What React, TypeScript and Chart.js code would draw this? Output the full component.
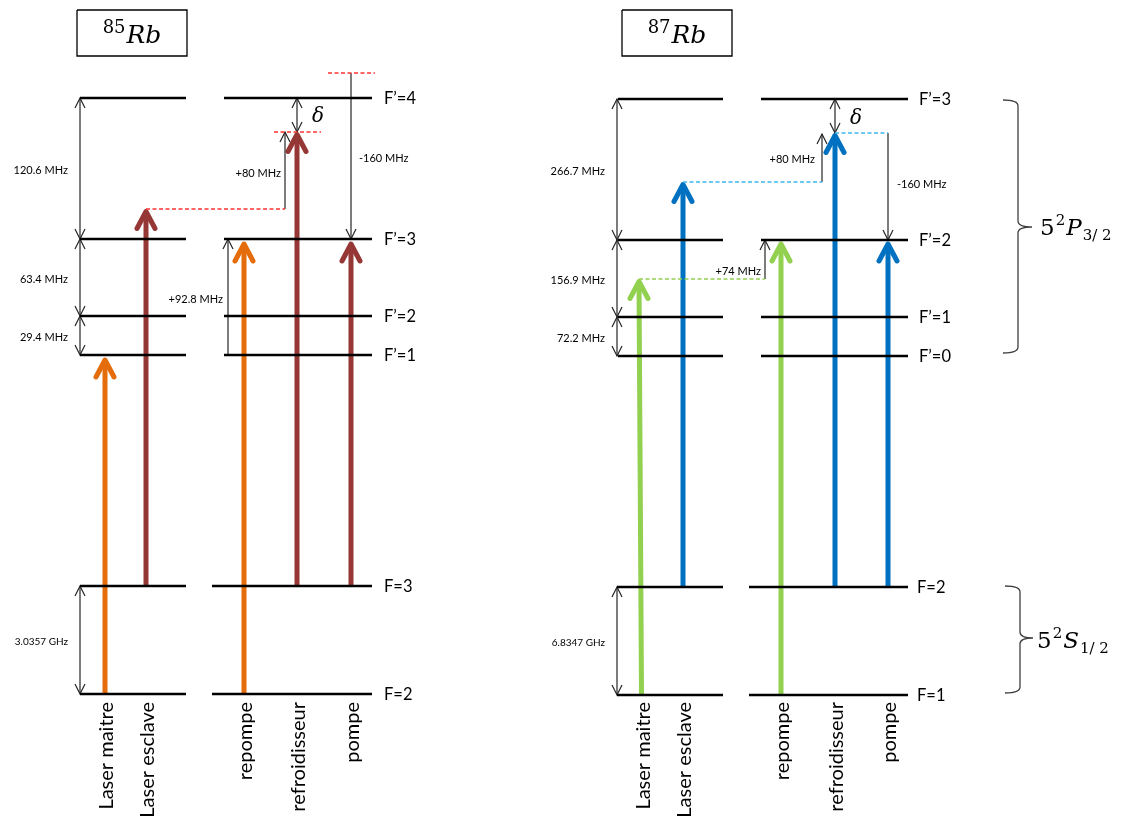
import { useEffect, useRef } from "react";
import { Chart, registerables } from "chart.js";
Chart.register(...registerables);

const W = 1130;
const H = 817;

// ---------- data ----------
// hyperfine levels, top -> bottom, with their vertical position on the diagram axis
const levelNames85 = ["F’=4", "F’=3", "F’=2", "F’=1", "F=3", "F=2"];
const levelY85 = [98, 239, 316, 355, 586, 694];
const levelNames87 = ["F’=3", "F’=2", "F’=1", "F’=0", "F=2", "F=1"];
const levelY87 = [99, 240, 317, 356, 587, 695];

// level spacings (between level i and i+1)
const gapLabels85 = ["120.6 MHz", "63.4 MHz", "29.4 MHz", "", "3.0357 GHz"];
const gapLabels87 = ["266.7 MHz", "156.9 MHz", "72.2 MHz", "", "6.8347 GHz"];

// lasers
const laserNames = ["Laser maitre", "Laser esclave", "repompe", "refroidisseur", "pompe"];
const laserStartLevel = [5, 4, 5, 4, 4];
const laserX85 = [105, 146, 244, 297, 351];
const laserTopX85 = [105, 146, 244, 297, 351];
const laserTip85 = [360, 211.5, 244, 134.5, 244];
const laserColors85 = ["#E46C0A", "#953735", "#E46C0A", "#953735", "#953735"];
const laserX87 = [641.5, 683, 781, 835, 888];
const laserTopX87 = [639, 683, 781, 835, 888];
const laserTip87 = [281.5, 184.5, 244, 135.5, 244];
const laserColors87 = ["#92D050", "#0070C0", "#92D050", "#0070C0", "#0070C0"];

// frequency offsets (AOM shifts)
const offsetLabels85 = ["+92.8 MHz", "+80 MHz", "-160 MHz"];
const offsetX85 = [228, 285, 351];
const offsetFrom85 = [355, 209, 73];
const offsetTo85 = [239, 132, 239];
const offsetLabels87 = ["+74 MHz", "+80 MHz", "-160 MHz"];
const offsetX87 = [765, 822, 888];
const offsetFrom87 = [279, 182, 133];
const offsetTo87 = [240, 134, 240];

// dashed reference lines: y, x-start, x-end
const refY85 = [209, 132, 73];
const refX1_85 = [146, 274, 328];
const refX2_85 = [285, 321, 375];
const refColors85 = ["#FF3333", "#FF3333", "#FF3333"];
const refY87 = [279, 182, 133];
const refX1_87 = [639, 683, 835];
const refX2_87 = [765, 822, 888];
const refColors87 = ["#92D050", "#3DB7F0", "#3DB7F0"];

// detuning delta
const deltaX = [297, 835];
const deltaTo = [132, 133];

type P = { x: number; y: number };

function seg(points: P[], color: string, width: number, extra: any = {}) {
  return {
    data: points,
    borderColor: color,
    backgroundColor: color,
    borderWidth: width,
    showLine: true,
    pointRadius: 0,
    pointHoverRadius: 0,
    fill: false,
    tension: 0,
    clip: false,
    ...extra,
  };
}

function thinHead(x: number, y: number, dir: number): P[] {
  // dir = -1 -> arrow pointing up (tip at y), +1 pointing down
  return [
    { x: x - 5, y: y - dir * 10 },
    { x, y },
    { x: x + 5, y: y - dir * 10 },
  ];
}

function buildIsotope(
  levelY: number[],
  upperLeft: number[],
  upperRight: number[],
  lowerLeft: number[],
  lowerRight: number[],
  dimX: number,
  laserX: number[],
  laserTopX: number[],
  laserTip: number[],
  laserColors: string[],
  offX: number[],
  offFrom: number[],
  offTo: number[],
  refY: number[],
  refX1: number[],
  refX2: number[],
  refColors: string[],
  dX: number,
  dTo: number
) {
  const ds: any[] = [];
  const black = "#000000";
  const thin = "#262626";
  // levels
  levelY.forEach((y, i) => {
    const L = i < 4 ? upperLeft : lowerLeft;
    const R = i < 4 ? upperRight : lowerRight;
    ds.push(seg([{ x: L[0], y }, { x: L[1], y }], black, 2.6));
    ds.push(seg([{ x: R[0], y }, { x: R[1], y }], black, 2.6));
  });
  // spacing dimension arrows
  [0, 1, 2, 4].forEach((i) => {
    const a = levelY[i];
    const b = levelY[i + 1];
    ds.push(seg([{ x: dimX, y: a }, { x: dimX, y: b }], thin, 1.2));
    ds.push(seg(thinHead(dimX, a, -1), thin, 1.2));
    ds.push(seg(thinHead(dimX, b, 1), thin, 1.2));
  });
  // dashed reference lines
  refY.forEach((y, i) => {
    ds.push(seg([{ x: refX1[i], y }, { x: refX2[i], y }], refColors[i], 1.3, { borderDash: [4, 2.5] }));
  });
  // offset arrows
  offX.forEach((x, i) => {
    const dir = offTo[i] < offFrom[i] ? -1 : 1;
    ds.push(seg([{ x, y: offFrom[i] }, { x, y: offTo[i] }], thin, 1.2));
    ds.push(seg(thinHead(x, offTo[i], dir), thin, 1.2));
  });
  // delta double arrow
  const top = levelY[0];
  ds.push(seg([{ x: dX, y: top }, { x: dX, y: dTo }], thin, 1.2));
  ds.push(seg(thinHead(dX, top, -1), thin, 1.2));
  ds.push(seg(thinHead(dX, dTo, 1), thin, 1.2));
  // lasers
  laserX.forEach((x, i) => {
    const y0 = levelY[laserStartLevel[i]];
    const tx = laserTopX[i];
    const ty = laserTip[i];
    ds.push(seg([{ x, y: y0 }, { x: tx, y: ty + 2 }], laserColors[i], 5, { borderCapStyle: "butt" }));
    ds.push(
      seg(
        [
          { x: tx - 9, y: ty + 17 },
          { x: tx, y: ty },
          { x: tx + 9, y: ty + 17 },
        ],
        laserColors[i],
        5,
        { borderCapStyle: "round", borderJoinStyle: "round" }
      )
    );
  });
  return ds;
}

function box(x1: number, y1: number, x2: number, y2: number) {
  return seg(
    [
      { x: x1, y: y1 },
      { x: x2, y: y1 },
      { x: x2, y: y2 },
      { x: x1, y: y2 },
      { x: x1, y: y1 },
    ],
    "#000",
    1.3,
    { borderJoinStyle: "miter" }
  );
}

const textPlugin = {
  id: "diagramText",
  afterDatasetsDraw(chart: any) {
    const ctx: CanvasRenderingContext2D = chart.ctx;
    const sx = chart.scales.x;
    const sy = chart.scales.y;
    const X = (v: number) => sx.getPixelForValue(v);
    const Y = (v: number) => sy.getPixelForValue(v);
    const sans = "Lato, 'Open Sans', sans-serif";
    const serif = "'DejaVu Serif', serif";
    ctx.save();
    ctx.fillStyle = "#000";

    // titles
    const title = (mass: string, cx: number) => {
      ctx.textBaseline = "alphabetic";
      ctx.textAlign = "left";
      ctx.font = `18px ${serif}`;
      const w1 = ctx.measureText(mass).width;
      ctx.font = `italic 25px ${serif}`;
      const w2 = ctx.measureText("Rb").width;
      const start = X(cx) - (w1 + 1 + w2) / 2;
      ctx.font = `18px ${serif}`;
      ctx.fillText(mass, start, Y(33));
      ctx.font = `italic 25px ${serif}`;
      ctx.fillText("Rb", start + w1 + 1, Y(43));
    };
    title("85", 132);
    title("87", 677);

    // level labels
    ctx.font = `16.5px ${sans}`;
    ctx.textBaseline = "middle";
    ctx.textAlign = "left";
    levelNames85.forEach((n, i) => ctx.fillText(n, X(384), Y(levelY85[i] + 1)));
    levelNames87.forEach((n, i) => ctx.fillText(n, X(i < 4 ? 919 : 917), Y(levelY87[i] + 1)));

    // spacing labels
    ctx.textAlign = "right";
    const gaps = (labels: string[], ys: number[], xr: number) => {
      labels.forEach((t, i) => {
        if (!t) return;
        ctx.font = `${i === 4 ? 10 : 11}px ${sans}`;
        ctx.fillText(t, X(xr), Y((ys[i] + ys[i + 1]) / 2 + 2));
      });
    };
    gaps(gapLabels85, levelY85, 68);
    gaps(gapLabels87, levelY87, 605);

    // offset labels
    ctx.font = `11px ${sans}`;
    ctx.textAlign = "right";
    ctx.fillText(offsetLabels85[0], X(223), Y(299));
    ctx.fillText(offsetLabels85[1], X(281), Y(173));
    ctx.fillText(offsetLabels87[0], X(761), Y(271));
    ctx.fillText(offsetLabels87[1], X(815), Y(159));
    ctx.textAlign = "left";
    ctx.fillText(offsetLabels85[2], X(359), Y(158));
    ctx.fillText(offsetLabels87[2], X(897), Y(184));

    // delta
    ctx.font = `italic 20px ${serif}`;
    ctx.textAlign = "center";
    ctx.fillText("δ", X(deltaX[0] + 21), Y(117));
    ctx.fillText("δ", X(deltaX[1] + 21), Y(119));

    // laser names (rotated)
    ctx.font = `20px ${sans}`;
    ctx.textAlign = "right";
    ctx.textBaseline = "middle";
    const rot = (t: string, x: number) => {
      ctx.save();
      ctx.translate(X(x), Y(702));
      ctx.rotate(-Math.PI / 2);
      ctx.fillText(t, 0, 0);
      ctx.restore();
    };
    laserNames.forEach((n, i) => rot(n, laserX85[i] + 2));
    laserNames.forEach((n, i) => rot(n, laserX87[i] + 2));

    // braces
    ctx.strokeStyle = "#404040";
    ctx.lineWidth = 1.3;
    const brace = (x0: number, xv: number, xt: number, y1: number, ym: number, y2: number) => {
      ctx.beginPath();
      ctx.moveTo(X(x0), Y(y1));
      ctx.quadraticCurveTo(X(xv), Y(y1), X(xv), Y(y1 + 6));
      ctx.lineTo(X(xv), Y(ym - 6));
      ctx.quadraticCurveTo(X(xv), Y(ym), X(xt), Y(ym));
      ctx.moveTo(X(xt), Y(ym));
      ctx.quadraticCurveTo(X(xv), Y(ym), X(xv), Y(ym + 6));
      ctx.lineTo(X(xv), Y(y2 - 6));
      ctx.quadraticCurveTo(X(xv), Y(y2), X(x0), Y(y2));
      ctx.stroke();
    };
    brace(1003, 1018, 1032, 100, 227, 353);
    brace(1005, 1020, 1033, 586, 638, 693);

    const term = (L: string, sub: string, x: number, base: number) => {
      ctx.textAlign = "left";
      ctx.textBaseline = "alphabetic";
      let cx = X(x);
      ctx.font = `23px ${serif}`;
      ctx.fillText("5", cx, Y(base));
      cx += ctx.measureText("5").width + 1;
      ctx.font = `15px ${serif}`;
      ctx.fillText("2", cx, Y(base - 10));
      cx += ctx.measureText("2").width + 1;
      ctx.font = `italic 23px ${serif}`;
      ctx.fillText(L, cx, Y(base));
      cx += ctx.measureText(L).width + 1;
      ctx.font = `15px ${serif}`;
      ctx.fillText(sub, cx, Y(base + 5));
    };
    term("P", "3/ 2", 1040, 235);
    term("S", "1/ 2", 1037, 648);

    ctx.restore();
  },
};

export default function App() {
  const ref = useRef<HTMLCanvasElement | null>(null);
  useEffect(() => {
    if (!ref.current) return;
    const datasets = [
      box(77, 10, 187, 56),
      box(622, 10, 732, 56),
      ...buildIsotope(
        levelY85, [80, 186], [224, 372], [80, 186], [212, 372], 80,
        laserX85, laserTopX85, laserTip85, laserColors85,
        offsetX85, offsetFrom85, offsetTo85,
        refY85, refX1_85, refX2_85, refColors85,
        deltaX[0], deltaTo[0]
      ),
      ...buildIsotope(
        levelY87, [618, 723], [761, 908], [617, 723], [749, 908], 617,
        laserX87, laserTopX87, laserTip87, laserColors87,
        offsetX87, offsetFrom87, offsetTo87,
        refY87, refX1_87, refX2_87, refColors87,
        deltaX[1], deltaTo[1]
      ),
    ];
    const chart = new Chart(ref.current, {
      type: "scatter",
      data: { datasets },
      options: {
        animation: false,
        responsive: false,
        maintainAspectRatio: false,
        events: [],
        layout: { padding: 0 },
        plugins: { legend: { display: false }, tooltip: { enabled: false } },
        scales: {
          x: { type: "linear", min: 0, max: W, display: false },
          y: { type: "linear", min: 0, max: H, reverse: true, display: false },
        },
      },
      plugins: [textPlugin],
    } as any);
    return () => chart.destroy();
  }, []);
  return (
    <div style={{ position: "absolute", left: 0, top: 0, width: W, height: H, background: "#fff" }}>
      <canvas ref={ref} width={W} height={H} style={{ display: "block" }} />
    </div>
  );
}
